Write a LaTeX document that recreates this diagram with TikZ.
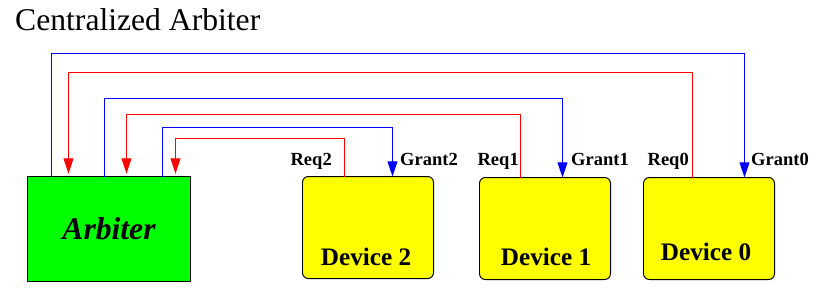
\documentclass[tikz,border=0pt]{standalone}
\usepackage{fontspec}
\setmainfont{Liberation Serif}
\usetikzlibrary{arrows.meta}
\definecolor{arbgreen}{RGB}{0,255,0}
\definecolor{devyellow}{RGB}{255,255,0}
\definecolor{gntblue}{RGB}{0,0,255}
\definecolor{reqred}{RGB}{255,0,0}

\begin{document}
\begin{tikzpicture}[x=0.03cm, y=-0.03cm, >={Triangle[length=13pt,width=8.5pt]}]
    \tikzset{
        arbbox/.style={draw=black, line width=0.85pt, fill=arbgreen, outer sep=0pt,
            minimum width=4.89cm, minimum height=3.15cm, inner sep=0pt,
            font=\fontsize{27}{30}\selectfont\bfseries\itshape},
        devbox/.style={draw=black, line width=0.85pt, fill=devyellow, outer sep=0pt,
            rounded corners=5pt, minimum width=3.93cm, minimum height=3.06cm},
        devtext/.style={anchor=base, inner sep=0pt,
            font=\fontsize{21.5}{24}\selectfont\bfseries},
        sig/.style={inner sep=0pt, font=\fontsize{15.8}{18}\selectfont\bfseries},
        grant/.style={draw=gntblue, line width=0.85pt, ->},
        req/.style={draw=reqred, line width=0.85pt, ->, shorten >=2.5pt}
    }
    \useasboundingbox (0,0) rectangle (828,296);

    % Titel
    \node[anchor=base west, inner sep=0pt, font=\fontsize{27}{30}\selectfont]
        (title) at (15,30) {Centralized Arbiter};

    % Kaesten
    \node[arbbox] (arb) at (109,229) {Arbiter};
    \node[devbox] (d2) at (368,227.5) {};
    \node[devbox] (d1) at (545,228.5) {};
    \node[devbox] (d0) at (709,228.5) {};
    \node[devtext] (d2t) at (366,265) {Device 2};
    \node[devtext] (d1t) at (546,265) {Device 1};
    \node[devtext] (d0t) at (706,260) {Device 0};

    % Signalnamen
    \node[sig, anchor=base east] (req2) at (332,165) {Req2};
    \node[sig, anchor=base west] (gnt2) at (400,165) {Grant2};
    \node[sig, anchor=base east] (req1) at (519,165) {Req1};
    \node[sig, anchor=base west] (gnt1) at (571,165) {Grant1};
    \node[sig, anchor=base east] (req0) at (689,165) {Req0};
    \node[sig, anchor=base west] (gnt0) at (751,165) {Grant0};

    % Grant-Leitungen (blau)
    \draw[grant] ([xshift=0.72cm]arb.north west) -- ++(0,-123)
        -| ([xshift=3.03cm]d0.north west);
    \draw[grant] ([xshift=2.31cm]arb.north west) -- ++(0,-78)
        -| ([xshift=2.49cm]d1.north west);
    \draw[grant] ([xshift=4.05cm]arb.north west) -- ++(0,-49)
        -| ([xshift=2.70cm]d2.north west);

    % Request-Leitungen (rot)
    \draw[req] ([xshift=1.47cm]d0.north west) -- ++(0,-105)
        -| ([xshift=1.23cm]arb.north west);
    \draw[req] ([xshift=1.23cm]d1.north west) -- ++(0,-63)
        -| ([xshift=2.97cm]arb.north west);
    \draw[req] ([xshift=1.26cm]d2.north west) -- ++(0,-38)
        -| ([xshift=4.44cm]arb.north west);
\end{tikzpicture}
\end{document}
